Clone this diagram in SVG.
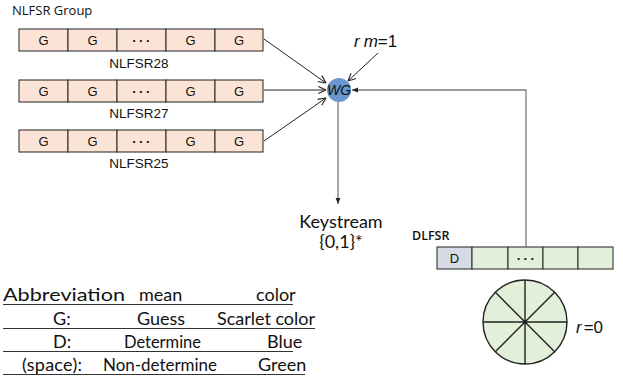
<svg xmlns="http://www.w3.org/2000/svg" width="623" height="381" viewBox="0 0 623 381">
  <style>
    .cell { fill: #fbe4d5; stroke: #333; stroke-width: 1.1; }
    .dcell { fill: #d6dbe6; stroke: #333; stroke-width: 1.1; }
    .gcell { fill: #e2efd9; stroke: #333; stroke-width: 1.1; }
    .g { font-family: "Liberation Sans", Arial, sans-serif; font-size: 13px; fill: #111; text-anchor: middle; }
    .dots { font-family: "Liberation Sans", Arial, sans-serif; font-size: 13px; font-weight: bold; fill: #111; text-anchor: middle; letter-spacing: 2.5px; }
    .lbl { font-family: "Liberation Sans", Arial, sans-serif; font-size: 13.5px; fill: #111; text-anchor: middle; }
    .hdr { font-family: "Open Sans", sans-serif; font-size: 13px; fill: #111; }
    .cal { font-family: Lato, "Open Sans", sans-serif; font-size: 18px; fill: #111; }
    .math { font-family: "Liberation Sans", Arial, sans-serif; font-size: 17px; fill: #111; }
    .blk { stroke: #222; stroke-width: 1; fill: none; }
    .gry { stroke: #7a7a7a; stroke-width: 1.3; fill: none; }
    .rule { stroke: #333; stroke-width: 1.1; }
  </style>
  <defs>
    <marker id="open" viewBox="0 0 10 10" refX="9.5" refY="5" markerWidth="9" markerHeight="9" markerUnits="userSpaceOnUse" orient="auto">
      <path d="M1,1 L9.5,5 L1,9" fill="none" stroke="#222" stroke-width="1.2"/>
    </marker>
    <marker id="solid" viewBox="0 0 10 10" refX="10" refY="5" markerWidth="6" markerHeight="6" markerUnits="userSpaceOnUse" orient="auto">
      <path d="M0,1 L10,5 L0,9 Z" fill="#222"/>
    </marker>
  </defs>

  <rect width="623" height="381" fill="#ffffff"/>

  <text class="hdr" x="12" y="15">NLFSR Group</text>

  <!-- NLFSR28 -->
  <g id="nlfsr28">
    <rect class="cell" x="19" y="29" width="49" height="22"/>
    <rect class="cell" x="68" y="29" width="49" height="22"/>
    <rect class="cell" x="117" y="29" width="49" height="22"/>
    <rect class="cell" x="166" y="29" width="49" height="22"/>
    <rect class="cell" x="215" y="29" width="48" height="22"/>
    <text class="g" x="43.5" y="45">G</text>
    <text class="g" x="92.5" y="45">G</text>
    <text class="dots" x="142.5" y="45">···</text>
    <text class="g" x="190.5" y="45">G</text>
    <text class="g" x="239" y="45">G</text>
    <text class="lbl" x="139" y="68">NLFSR28</text>
  </g>

  <!-- NLFSR27 -->
  <g id="nlfsr27">
    <rect class="cell" x="19" y="80" width="49" height="22"/>
    <rect class="cell" x="68" y="80" width="49" height="22"/>
    <rect class="cell" x="117" y="80" width="49" height="22"/>
    <rect class="cell" x="166" y="80" width="49" height="22"/>
    <rect class="cell" x="215" y="80" width="48" height="22"/>
    <text class="g" x="43.5" y="96">G</text>
    <text class="g" x="92.5" y="96">G</text>
    <text class="dots" x="142.5" y="96">···</text>
    <text class="g" x="190.5" y="96">G</text>
    <text class="g" x="239" y="96">G</text>
    <text class="lbl" x="139" y="118">NLFSR27</text>
  </g>

  <!-- NLFSR25 -->
  <g id="nlfsr25">
    <rect class="cell" x="19" y="130" width="49" height="22"/>
    <rect class="cell" x="68" y="130" width="49" height="22"/>
    <rect class="cell" x="117" y="130" width="49" height="22"/>
    <rect class="cell" x="166" y="130" width="49" height="22"/>
    <rect class="cell" x="215" y="130" width="48" height="22"/>
    <text class="g" x="43.5" y="146">G</text>
    <text class="g" x="92.5" y="146">G</text>
    <text class="dots" x="142.5" y="146">···</text>
    <text class="g" x="190.5" y="146">G</text>
    <text class="g" x="239" y="146">G</text>
    <text class="lbl" x="139" y="168">NLFSR25</text>
  </g>

  <!-- filter function -->
  <g id="wg">
    <circle cx="339" cy="90" r="12" fill="#6a97cd"/>
    <text x="339" y="95" font-family="'Liberation Sans', Arial, sans-serif" font-size="14" font-style="italic" fill="#111" text-anchor="middle">WG</text>
  </g>

  <g id="rm">
    <text class="math" x="354" y="47"><tspan font-style="italic">r</tspan><tspan font-style="italic" dx="4">m</tspan>=1</text>
  </g>

  <g id="keystream">
    <text class="cal" x="341" y="228" text-anchor="middle">Keystream</text>
    <text class="cal" x="341" y="248" text-anchor="middle">{0,1}*</text>
  </g>

  <!-- DLFSR -->
  <g id="dlfsr">
    <text x="412" y="240" font-family="'Open Sans', sans-serif" font-size="12.5" font-weight="600" fill="#111">DLFSR</text>
    <rect class="dcell" x="437" y="247" width="35" height="22"/>
    <rect class="gcell" x="472" y="247" width="36" height="22"/>
    <rect class="gcell" x="508" y="247" width="35" height="22"/>
    <rect class="gcell" x="543" y="247" width="35" height="22"/>
    <rect class="gcell" x="578" y="247" width="35" height="22"/>
    <text class="g" x="454.5" y="263">D</text>
    <text class="dots" x="527" y="263">···</text>
  </g>

  <!-- state wheel -->
  <g id="wheel">
    <circle cx="525" cy="322" r="42" fill="#e2efd9" stroke="#222" stroke-width="1.4"/>
    <path d="M483,322 H567 M525,280 V364 M495.3,292.3 L554.7,351.7 M554.7,292.3 L495.3,351.7" stroke="#222" stroke-width="1.4"/>
    <text class="math" x="576" y="333"><tspan font-style="italic">r</tspan><tspan dx="2">=0</tspan></text>
  </g>

  <!-- connectors -->
  <g id="connectors">
    <line class="blk" x1="264" y1="39" x2="326" y2="83" marker-end="url(#open)"/>
    <line class="blk" x1="264" y1="90" x2="326" y2="90" marker-end="url(#open)"/>
    <line class="blk" x1="264" y1="141" x2="326" y2="98" marker-end="url(#open)"/>
    <line class="blk" x1="378" y1="53" x2="348" y2="81" marker-end="url(#open)"/>
    <polyline class="gry" points="526,247 526,90 352,90" marker-end="url(#solid)"/>
    <line class="gry" x1="338" y1="102" x2="338" y2="204" marker-end="url(#solid)"/>
  </g>

  <!-- legend table -->
  <g id="legend">
    <text class="cal" x="3" y="301" textLength="122" lengthAdjust="spacingAndGlyphs">Abbreviation</text>
    <text class="cal" x="139" y="301">mean</text>
    <text class="cal" x="256" y="301">color</text>
    <line class="rule" x1="3" y1="304.5" x2="293" y2="304.5"/>

    <text class="cal" x="53" y="325">G:</text>
    <text class="cal" x="137" y="325">Guess</text>
    <text class="cal" x="217" y="325" textLength="98" lengthAdjust="spacing">Scarlet color</text>
    <line class="rule" x1="3" y1="328.5" x2="315" y2="328.5"/>

    <text class="cal" x="53" y="348">D:</text>
    <text class="cal" x="124" y="348" textLength="77" lengthAdjust="spacingAndGlyphs">Determine</text>
    <text class="cal" x="267" y="348">Blue</text>
    <line class="rule" x1="3" y1="351.5" x2="293" y2="351.5"/>

    <text class="cal" x="22" y="371" textLength="60" lengthAdjust="spacing">(space):</text>
    <text class="cal" x="103" y="371" textLength="114" lengthAdjust="spacingAndGlyphs">Non-determine</text>
    <text class="cal" x="258" y="371">Green</text>
    <line class="rule" x1="3" y1="374.5" x2="305" y2="374.5"/>
  </g>
</svg>
